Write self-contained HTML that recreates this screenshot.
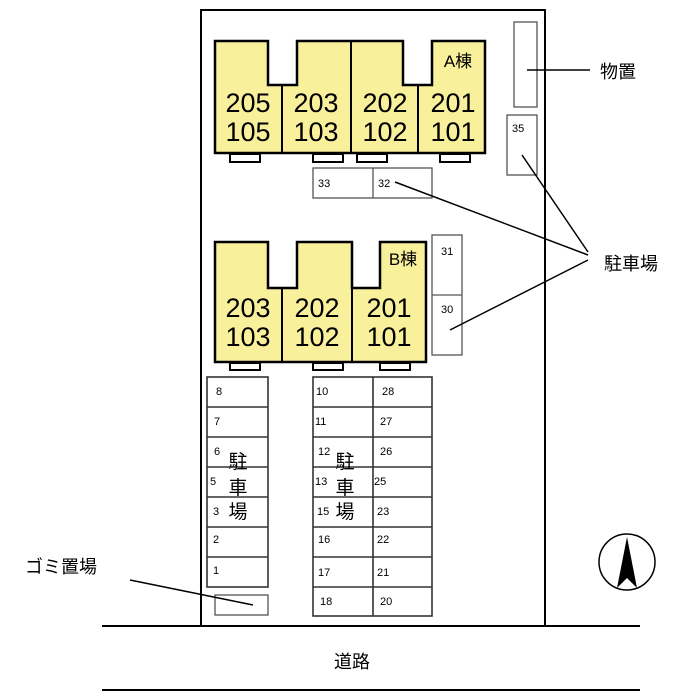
<!DOCTYPE html><html><head><style>body{margin:0;background:#fff}svg{display:block}text{font-family:"Liberation Sans","Noto Sans CJK JP",sans-serif}</style></head><body>
<svg width="700" height="700" viewBox="0 0 700 700">
<rect width="700" height="700" fill="#fff"/>
<rect x="201" y="10" width="344" height="616" fill="none" stroke="#000" stroke-width="2"/>
<line x1="102" y1="626" x2="640" y2="626" stroke="#000" stroke-width="2"/>
<line x1="102" y1="690" x2="640" y2="690" stroke="#000" stroke-width="2"/>
<g fill="#f8f09a" stroke="#000" stroke-width="2.5">
<path d="M215 41H268V85H297V41H403V85H432V41H485V153H215Z"/>
<path d="M215 242H268V288H297V242H352V288H380V242H426V362H215Z"/>
</g>
<g stroke="#000" stroke-width="2"><line x1="282" y1="85" x2="282" y2="153"/><line x1="351" y1="41" x2="351" y2="153"/><line x1="418" y1="85" x2="418" y2="153"/>
<line x1="282" y1="288" x2="282" y2="362"/><line x1="352" y1="288" x2="352" y2="362"/></g>
<g fill="#fff" stroke="#000" stroke-width="2">
<rect x="230" y="154" width="30" height="8"/><rect x="313" y="154" width="30" height="8"/><rect x="357" y="154" width="30" height="8"/><rect x="440" y="154" width="30" height="8"/>
<rect x="230" y="363" width="30" height="7"/><rect x="313" y="363" width="30" height="7"/><rect x="380" y="363" width="30" height="7"/>
</g>
<g font-size="27" text-anchor="middle" fill="#000">
<text x="248" y="112">205</text><text x="248" y="141">105</text>
<text x="316" y="112">203</text><text x="316" y="141">103</text>
<text x="385" y="112">202</text><text x="385" y="141">102</text>
<text x="453" y="112">201</text><text x="453" y="141">101</text>
<text x="248" y="317">203</text><text x="248" y="346">103</text>
<text x="317" y="317">202</text><text x="317" y="346">102</text>
<text x="389" y="317">201</text><text x="389" y="346">101</text>
</g>
<text x="458" y="67" font-size="17" text-anchor="middle">A棟</text>
<text x="403" y="265" font-size="17" text-anchor="middle">B棟</text>
<g fill="none" stroke="#555" stroke-width="1.3">
<rect x="313" y="168" width="119" height="30"/><line x1="373" y1="168" x2="373" y2="198"/>
<rect x="514" y="22" width="23" height="85"/>
<rect x="507" y="115" width="30" height="60"/>
<rect x="432" y="235" width="30" height="120"/><line x1="432" y1="295" x2="462" y2="295"/>
<rect x="215" y="595" width="53" height="20"/>
</g>
<g fill="none" stroke="#333" stroke-width="1.6">
<rect x="207" y="377" width="61" height="210"/>
<line x1="207" y1="407" x2="268" y2="407"/><line x1="207" y1="437" x2="268" y2="437"/><line x1="207" y1="467" x2="268" y2="467"/><line x1="207" y1="497" x2="268" y2="497"/><line x1="207" y1="527" x2="268" y2="527"/><line x1="207" y1="557" x2="268" y2="557"/>
<rect x="313" y="377" width="119" height="239"/><line x1="373" y1="377" x2="373" y2="616"/>
<line x1="313" y1="407" x2="432" y2="407"/><line x1="313" y1="437" x2="432" y2="437"/><line x1="313" y1="467" x2="432" y2="467"/><line x1="313" y1="497" x2="432" y2="497"/><line x1="313" y1="527" x2="432" y2="527"/><line x1="313" y1="557" x2="432" y2="557"/><line x1="313" y1="587" x2="432" y2="587"/>
</g>
<g font-size="11" fill="#000">
<text x="318" y="187">33</text><text x="378" y="187">32</text><text x="512" y="132">35</text><text x="441" y="255">31</text><text x="441" y="313">30</text>
<text x="216" y="395">8</text><text x="214" y="425">7</text><text x="214" y="455">6</text><text x="210" y="485">5</text><text x="213" y="515">3</text><text x="213" y="543">2</text><text x="213" y="574">1</text>
<text x="316" y="395">10</text><text x="315" y="425">11</text><text x="318" y="455">12</text><text x="315" y="485">13</text><text x="317" y="515">15</text><text x="318" y="543">16</text><text x="318" y="576">17</text><text x="320" y="605">18</text>
<text x="382" y="395">28</text><text x="380" y="425">27</text><text x="380" y="455">26</text><text x="374" y="485">25</text><text x="377" y="515">23</text><text x="377" y="543">22</text><text x="377" y="576">21</text><text x="380" y="605">20</text>
</g>
<g font-size="19" text-anchor="middle">
<text x="238" y="468">駐</text><text x="238" y="494">車</text><text x="238" y="518">場</text>
<text x="345" y="468">駐</text><text x="345" y="494">車</text><text x="345" y="518">場</text>
</g>
<g stroke="#000" stroke-width="1.5">
<line x1="527" y1="70" x2="590" y2="70"/>
<line x1="522" y1="155" x2="588" y2="252"/>
<line x1="395" y1="182" x2="588" y2="255"/>
<line x1="450" y1="330" x2="588" y2="260"/>
<line x1="130" y1="580" x2="253" y2="605"/>
</g>
<text x="600" y="78" font-size="18">物置</text>
<text x="604" y="270" font-size="18">駐車場</text>
<text x="25" y="573" font-size="18">ゴミ置場</text>
<text x="352" y="668" font-size="18" text-anchor="middle">道路</text>
<circle cx="627" cy="562" r="28" fill="none" stroke="#000" stroke-width="1.5"/>
<path d="M627 537L617 588L627 578L637 588Z" fill="#000"/>
</svg></body></html>
